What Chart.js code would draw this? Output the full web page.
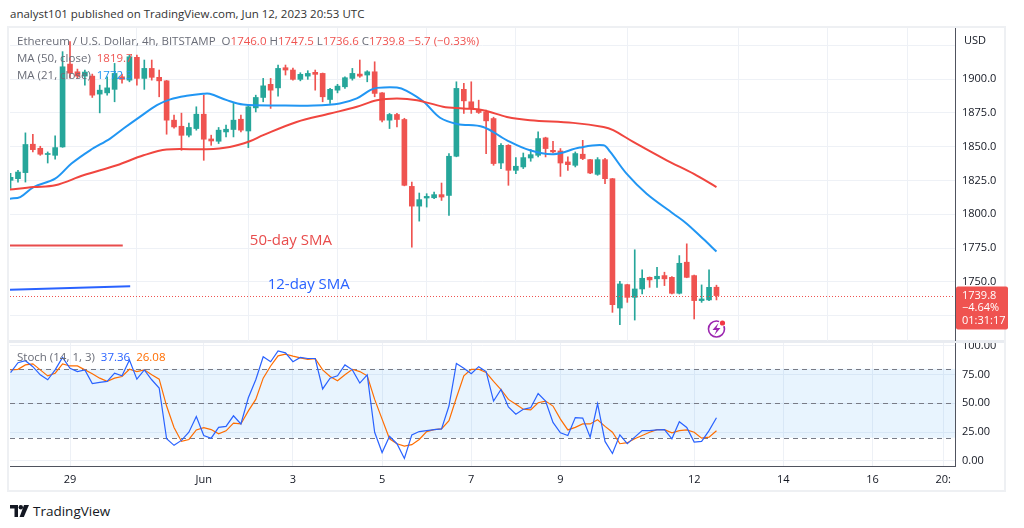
<!DOCTYPE html>
<html>
<head>
<meta charset="utf-8">
<script src="https://cdn.jsdelivr.net/npm/chart.js@4.4.0/dist/chart.umd.min.js"></script>
<style>
  html, body { margin: 0; padding: 0; background: #fff; width: 1024px; height: 528px; overflow: hidden; font-family: 'Open Sans', sans-serif; }
  #hdr { position: absolute; left: 10px; top: 6px; font-size: 11.5px; color: #333; white-space: nowrap; }
  #frame { position: absolute; left: 7px; top: 26px; width: 995px; height: 462px; border: 2px solid #eef0f3; }
  #sep { position: absolute; left: 9px; top: 340px; width: 995px; height: 3px; background: #e9ecf1; }
  #mainWrap { position: absolute; left: 10px; top: 28px; width: 1004px; height: 313px; }
  #stochWrap { position: absolute; left: 10px; top: 342px; width: 994px; height: 148px; }
  .legend { position: absolute; font-size: 11.5px; color: #6a6d78; white-space: nowrap; line-height: 14px; }
  .red { color: #ef5350; }
  .blue { color: #2196f3; }
  .kblue { color: #2962ff; }
  .orange { color: #ff6d00; }
  #usd { position: absolute; left: 964px; top: 32px; font-size: 11px; color: #131722; }
  #brand { position: absolute; left: 10px; top: 502px; font-size: 13.5px; color: #131722; display: flex; align-items: center; }
</style>
</head>
<body>
<div id="hdr">analyst101 published on TradingView.com, Jun 12, 2023 20:53 UTC</div>
<div id="frame"></div>
<div id="stochWrap"><canvas id="stochChart"></canvas></div>
<div id="sep"></div>
<div id="mainWrap"><canvas id="mainChart"></canvas></div>
<div id="usd">USD</div>

<div class="legend" style="left:17px; top:34px;">Ethereum / U.S. Dollar, 4h, BITSTAMP&nbsp; O<span class="red">1746.0</span> H<span class="red">1747.5</span> L<span class="red">1736.6</span> C<span class="red">1739.8</span> <span class="red">−5.7 (−0.33%)</span></div>
<div class="legend" style="left:17px; top:51px;">MA (50, close)&nbsp; <span class="red">1819.7</span></div>
<div class="legend" style="left:17px; top:68px;">MA (21, close)&nbsp; <span class="blue">1772.3</span></div>
<div class="legend" style="left:17px; top:350px;">Stoch (14, 1, 3)&nbsp; <span class="kblue">37.36</span>&nbsp; <span class="orange">26.08</span></div>

<div id="brand">
  <svg width="19" height="12" viewBox="0 0 19 12" style="margin-right:4px">
    <path d="M0 0h8v12H4.5V3.5H0z" fill="#131722"/>
    <circle cx="10.8" cy="2.2" r="2.2" fill="#131722"/>
    <path d="M14 0h5l-5.2 12H9.6z" fill="#131722"/>
  </svg>
  <span>TradingView</span>
</div>

<script>
// candle index 0 = May 29 00:00, one step = 4h
const START = -8;

const opens = [1825.1, 1826.3, 1830.8, 1851.8, 1848.8, 1844.2, 1843.6, 1849.8,
  1911.1, 1905.4, 1902.2, 1902.2, 1888.9, 1889.8, 1892.4, 1901.7, 1899.2, 1916.1,
  1900.5, 1907.9, 1901.3, 1898.7, 1869.6, 1865.1, 1858.5, 1863.4, 1874.0, 1855.7,
  1854.0, 1860.9, 1862.7, 1870.3, 1861.6, 1878.7, 1886.4, 1896.1, 1893.5, 1908.4,
  1906.7, 1899.8, 1902.2, 1905.0, 1904.2, 1884.9, 1891.8, 1894.3, 1900.5, 1903.7,
  1903.0, 1905.4, 1889.8, 1869.6, 1873.8, 1870.1, 1820.6, 1806.0, 1812.0, 1812.2,
  1814.5, 1813.9, 1842.9, 1892.4, 1883.2, 1877.0, 1875.7, 1870.8, 1837.9, 1851.0,
  1832.5, 1835.0, 1841.6, 1843.6, 1856.5, 1847.3, 1846.8, 1838.7, 1836.2, 1844.4,
  1840.4, 1829.5, 1840.4, 1826.3, 1730.6, 1747.9, 1738.5, 1744.7, 1753.3, 1752.2,
  1754.6, 1753.3, 1741.5, 1764.5, 1754.6, 1736.1, 1736.6, 1746.0];
const highs = [1830.3, 1832.5, 1860.2, 1859.2, 1850.3, 1846.1, 1858.0, 1920.3,
  1927.7, 1907.4, 1906.7, 1903.7, 1895.5, 1901.7, 1911.6, 1903.7, 1917.8, 1917.8,
  1914.1, 1914.1, 1906.7, 1899.0, 1873.3, 1874.8, 1867.4, 1879.5, 1888.1, 1858.5,
  1864.2, 1865.9, 1882.0, 1873.3, 1880.7, 1888.1, 1900.5, 1900.5, 1910.4, 1910.4,
  1908.2, 1904.7, 1906.2, 1906.7, 1904.5, 1893.1, 1896.1, 1901.7, 1907.9, 1914.1,
  1906.2, 1912.8, 1890.0, 1874.6, 1874.6, 1871.0, 1823.8, 1815.7, 1815.2, 1816.4,
  1823.1, 1844.9, 1898.0, 1896.8, 1898.0, 1884.4, 1877.0, 1871.8, 1852.3, 1851.5,
  1841.9, 1845.3, 1847.9, 1860.9, 1857.0, 1854.0, 1848.6, 1842.4, 1846.1, 1854.7,
  1840.7, 1841.9, 1841.4, 1826.5, 1750.4, 1748.2, 1773.7, 1758.8, 1753.6, 1760.8,
  1757.1, 1753.8, 1769.4, 1778.1, 1755.0, 1747.7, 1758.8, 1747.5];
const lows = [1819.1, 1823.8, 1823.8, 1846.1, 1843.6, 1837.9, 1840.7, 1849.5,
  1900.7, 1900.7, 1895.5, 1886.4, 1875.0, 1888.1, 1883.2, 1897.0, 1898.0, 1895.5,
  1892.4, 1899.2, 1886.9, 1859.2, 1863.6, 1847.3, 1857.2, 1862.2, 1839.9, 1851.0,
  1852.3, 1857.2, 1857.2, 1860.9, 1849.3, 1875.7, 1883.2, 1878.3, 1887.4, 1903.0,
  1899.2, 1898.7, 1899.8, 1891.8, 1883.2, 1882.0, 1889.8, 1893.1, 1899.2, 1901.3,
  1898.0, 1886.9, 1868.3, 1863.4, 1864.6, 1821.0, 1775.6, 1794.9, 1805.3, 1811.5,
  1810.2, 1799.1, 1842.5, 1874.6, 1874.6, 1874.6, 1844.9, 1836.2, 1833.8, 1821.4,
  1830.0, 1833.8, 1839.2, 1842.4, 1842.4, 1845.3, 1828.0, 1832.5, 1835.0, 1840.4,
  1830.0, 1828.8, 1822.6, 1727.4, 1718.3, 1734.8, 1721.7, 1741.0, 1745.9, 1745.9,
  1747.2, 1741.0, 1741.0, 1753.0, 1722.5, 1734.8, 1736.1, 1736.6];
const closes = [1827.3, 1831.2, 1851.6, 1847.8, 1844.4, 1844.8, 1849.3, 1909.1,
  1904.4, 1902.2, 1905.2, 1888.1, 1891.8, 1893.5, 1904.2, 1899.8, 1916.5, 1900.5,
  1907.9, 1901.3, 1898.7, 1869.6, 1864.6, 1858.4, 1864.2, 1874.0, 1855.5, 1854.2,
  1862.2, 1862.9, 1869.6, 1862.2, 1879.5, 1886.4, 1895.0, 1891.8, 1907.9, 1906.7,
  1899.8, 1903.5, 1904.2, 1903.5, 1886.9, 1892.4, 1894.8, 1901.0, 1904.2, 1902.2,
  1905.4, 1889.4, 1869.6, 1873.8, 1870.1, 1821.4, 1806.0, 1810.8, 1813.2, 1814.5,
  1812.7, 1842.9, 1893.1, 1883.9, 1878.3, 1875.3, 1869.1, 1837.5, 1851.0, 1832.5,
  1835.5, 1841.9, 1844.1, 1856.0, 1848.6, 1846.1, 1837.9, 1836.7, 1844.9, 1841.2,
  1830.5, 1840.4, 1826.3, 1733.1, 1748.4, 1738.5, 1744.7, 1752.6, 1751.4, 1754.1,
  1752.2, 1741.5, 1763.7, 1753.3, 1736.1, 1737.3, 1745.9, 1739.8];

// moving averages, read at points along the curves
const ma50X = [-8.1, -4.9, -2.0, 1.8, 6.3, 9.9, 13.0, 18.4, 21.5, 24.2, 26.0, 30.5, 35.0, 38.6, 41.3, 44.0, 46.7, 50.2, 52.9, 55.6, 58.8, 61.9, 67.7, 71.8, 73.1, 75.8, 80.3, 83.9, 87.0];
const ma50Y = [1818.2, 1820.1, 1821.4, 1828.8, 1836.2, 1843.6, 1847.9, 1848.1, 1849.8, 1854.0, 1858.5, 1868.3, 1874.5, 1879.5, 1884.4, 1885.7, 1884.4, 1879.6, 1878.3, 1877.0, 1872.0, 1869.6, 1867.6, 1864.6, 1862.2, 1853.5, 1839.9, 1830.0, 1820.1];
const ma21X = [-8.1, -6.7, -4.9, -2.0, 0.2, 2.7, 5.4, 7.2, 9.4, 11.7, 13.5, 15.7, 17.9, 18.8, 21.1, 23.3, 28.3, 32.8, 36.3, 38.6, 40.4, 41.3, 44.0, 45.3, 47.6, 49.8, 52.1, 55.6, 58.8, 61.9, 65.1, 68.6, 71.8, 72.7, 74.9, 77.6, 81.2, 83.0, 85.2, 87.0];
const ma21Y = [1811.5, 1812.7, 1820.1, 1826.3, 1837.5, 1847.3, 1856.0, 1863.4, 1872.0, 1880.7, 1885.0, 1887.6, 1889.1, 1889.1, 1884.4, 1881.2, 1880.5, 1880.5, 1882.0, 1885.7, 1891.8, 1893.5, 1893.8, 1891.3, 1883.2, 1871.4, 1866.8, 1864.6, 1854.7, 1847.3, 1844.4, 1849.3, 1851.0, 1846.1, 1830.0, 1815.2, 1800.4, 1793.0, 1781.8, 1772.4];

// hand-drawn marker segments on the chart
const sma50MarkX = [-8.1, 7.1];
const sma50MarkY = [1776.9, 1776.9];
const sma12MarkX = [-8.1, 8.1];
const sma12MarkY = [1744.2, 1746.7];

const stochK = [76.8, 85.3, 87.1, 81.9, 74.8, 70.5, 79.1, 89.9,
  80.5, 77.6, 79.1, 67.1, 68.2, 69.1, 76.2, 73.9, 87.7, 71.0, 79.1, 70.5, 63.3,
  19.1, 13.4, 17.7, 24.8, 38.5, 21.9, 19.6, 29.0, 29.9, 39.1, 32.0, 54.8, 70.5,
  90.5, 86.2, 95.6, 93.9, 86.2, 89.9, 89.0, 89.0, 62.5, 71.9, 73.9, 83.4, 79.1,
  67.6, 74.8, 24.8, 7.1, 21.3, 14.8, 2.0, 22.5, 25.4, 26.2, 27.1, 27.7, 47.6,
  84.7, 80.5, 75.7, 81.9, 77.6, 51.9, 62.0, 46.8, 40.5, 44.8, 46.2, 58.5, 51.9,
  33.3, 24.3, 21.9, 37.6, 37.1, 20.5, 49.6, 16.8, 6.3, 22.5, 14.8, 20.5, 26.2,
  26.2, 26.8, 27.1, 19.1, 33.9, 29.0, 16.2, 16.8, 26.2, 37.4];
const stochD = [79.1, 79.6, 83.4, 84.3, 79.1, 73.9, 76.2, 84.3,
  82.5, 82.5, 79.1, 75.7, 71.9, 69.1, 71.9, 73.3, 79.6, 77.6, 79.1, 74.8, 71.0,
  47.6, 29.0, 16.8, 18.5, 26.8, 28.8, 27.1, 23.4, 26.0, 32.8, 32.0, 43.4, 53.4,
  71.9, 82.5, 91.3, 92.8, 91.1, 89.6, 88.2, 88.8, 79.1, 73.4, 69.7, 74.8, 79.6,
  77.6, 73.9, 53.4, 36.2, 19.1, 14.8, 12.8, 14.0, 18.5, 25.4, 27.1, 27.7, 34.8,
  54.8, 73.9, 79.6, 79.6, 76.8, 69.1, 62.0, 53.4, 49.1, 44.8, 44.3, 50.5, 51.9,
  47.6, 36.2, 26.8, 29.0, 32.0, 32.0, 35.6, 29.9, 24.8, 14.8, 15.7, 19.1, 21.9,
  24.8, 27.1, 27.1, 24.3, 26.2, 26.8, 24.8, 19.6, 20.5, 26.1];

const dayTicks = [0, 18, 30, 42, 54, 66, 84, 96, 108, 117.5];
const dayLabels = ['29', 'Jun', '3', '5', '7', '9', '12', '14', '16', '20:'];
const priceTicks = [1725, 1750, 1775, 1800, 1825, 1850, 1875, 1900, 1925];
const priceLabelled = [1750, 1775, 1800, 1825, 1850, 1875, 1900];
const stochTicks = [0, 25, 50, 75, 100];
const stochLevels = [80, 50, 20];

const X_MIN = -8.075, X_MAX = 119.1;
const UP = '#26a69a', DOWN = '#ef5350';
const GRID = '#eef1f6';
const AXIS_LINE = '#50535e';
const TEXT = '#131722';

const candleX = opens.map((_, k) => START + k);
const candleColors = opens.map((o, k) => closes[k] >= o ? UP : DOWN);
const lastClose = closes[closes.length - 1];
const lastX = candleX[candleX.length - 1];

const zip = (xs, ys) => xs.map((x, k) => ({ x: x, y: ys[k] }));

function rightAxis(width) {
    return (scale) => {
        scale.width = width;
        scale.paddingTop = 0;
        scale.paddingBottom = 0;
    };
}

const overlayPlugin = {
    id: 'overlay',
    afterDatasetsDraw(chart) {
        const { ctx, chartArea, scales } = chart;
        const y = scales.y.getPixelForValue(lastClose);

        // dotted last price line
        ctx.save();
        ctx.strokeStyle = DOWN;
        ctx.lineWidth = 1;
        ctx.setLineDash([1, 2]);
        ctx.beginPath();
        ctx.moveTo(chartArea.left, Math.round(y) + 0.5);
        ctx.lineTo(chartArea.right, Math.round(y) + 0.5);
        ctx.stroke();
        ctx.restore();

        // text notes
        ctx.save();
        ctx.font = '15px "Open Sans", sans-serif';
        ctx.textBaseline = 'middle';
        ctx.fillStyle = '#e84c4c';
        ctx.fillText('50-day SMA', scales.x.getPixelForValue(24.2), scales.y.getPixelForValue(1780.6));
        ctx.fillStyle = '#2962ff';
        ctx.fillText('12-day SMA', scales.x.getPixelForValue(26.6), scales.y.getPixelForValue(1747.9));
        ctx.restore();

        // replay/lightning badge
        const cx = scales.x.getPixelForValue(lastX), cy = chartArea.bottom - 12;
        ctx.save();
        ctx.strokeStyle = '#9c27b0';
        ctx.lineWidth = 1.6;
        ctx.beginPath();
        ctx.arc(cx, cy, 8, 0, Math.PI * 2);
        ctx.stroke();
        ctx.fillStyle = '#9c27b0';
        ctx.beginPath();
        ctx.moveTo(cx + 2, cy - 6);
        ctx.lineTo(cx - 4, cy + 1);
        ctx.lineTo(cx, cy + 1);
        ctx.lineTo(cx - 2, cy + 6);
        ctx.lineTo(cx + 4, cy - 1);
        ctx.lineTo(cx, cy - 1);
        ctx.closePath();
        ctx.fill();
        ctx.fillStyle = '#fff';
        ctx.beginPath();
        ctx.arc(cx + 6, cy - 6, 3.6, 0, Math.PI * 2);
        ctx.fill();
        ctx.fillStyle = '#f23645';
        ctx.beginPath();
        ctx.arc(cx + 6, cy - 6, 2.6, 0, Math.PI * 2);
        ctx.fill();
        ctx.restore();
    },
    afterDraw(chart) {
        const { ctx, chartArea, scales } = chart;
        const y = scales.y.getPixelForValue(lastClose);
        const left = chartArea.right + 1;
        ctx.save();
        ctx.fillStyle = DOWN;
        ctx.beginPath();
        ctx.roundRect(left, y - 9, 52, 43, 2);
        ctx.fill();
        ctx.fillStyle = '#fff';
        ctx.font = '11px "Open Sans", sans-serif';
        ctx.textBaseline = 'middle';
        ctx.fillText('1739.8', left + 6, y);
        ctx.fillText('−4.64%', left + 6, y + 12.5);
        ctx.fillText('01:31:17', left + 6, y + 25);
        ctx.restore();
    }
};

new Chart(document.getElementById('mainChart'), {
    type: 'bar',
    data: {
        datasets: [
            {
                type: 'line', label: 'MA 50', data: zip(ma50X, ma50Y), order: 0,
                borderColor: '#f0463f', borderWidth: 2, pointRadius: 0, tension: 0.35
            },
            {
                type: 'line', label: 'MA 21', data: zip(ma21X, ma21Y), order: 0,
                borderColor: '#2196f3', borderWidth: 2, pointRadius: 0, tension: 0.35
            },
            {
                type: 'line', label: '50 mark', data: zip(sma50MarkX, sma50MarkY), order: 0,
                borderColor: '#e84c4c', borderWidth: 2, pointRadius: 0
            },
            {
                type: 'line', label: '12 mark', data: zip(sma12MarkX, sma12MarkY), order: 0,
                borderColor: '#2962ff', borderWidth: 2, pointRadius: 0
            },
            {
                label: 'wicks', order: 2, grouped: false,
                data: candleX.map((x, k) => ({ x: x, y: [lows[k], highs[k]] })),
                backgroundColor: candleColors, barThickness: 1
            },
            {
                label: 'bodies', order: 1, grouped: false, minBarLength: 1,
                data: candleX.map((x, k) => ({ x: x, y: [opens[k], closes[k]] })),
                backgroundColor: candleColors, barThickness: 5
            }
        ]
    },
    options: {
        responsive: true,
        maintainAspectRatio: false,
        animation: false,
        layout: { padding: 0 },
        plugins: { legend: { display: false }, tooltip: { enabled: false } },
        scales: {
            x: {
                type: 'linear', min: X_MIN, max: X_MAX, offset: false,
                afterBuildTicks: (s) => { s.ticks = dayTicks.map(v => ({ value: v })); },
                afterFit: (s) => { s.height = 0; s.paddingLeft = 0; s.paddingRight = 0; },
                ticks: { display: false },
                grid: { color: GRID, drawTicks: false },
                border: { display: false }
            },
            y: {
                position: 'right', min: 1706.2, max: 1937.8,
                afterBuildTicks: (s) => { s.ticks = priceTicks.map(v => ({ value: v })); },
                afterFit: rightAxis(59),
                ticks: {
                    padding: 7, color: TEXT, font: { family: 'Open Sans', size: 11 },
                    callback: (v) => priceLabelled.includes(v) ? v.toFixed(1) : ''
                },
                grid: { color: GRID, drawTicks: false },
                border: { display: true, color: AXIS_LINE, width: 1 }
            }
        }
    },
    plugins: [overlayPlugin]
});

const bandPlugin = {
    id: 'band',
    beforeDatasetsDraw(chart) {
        const { ctx, chartArea, scales } = chart;
        const top = scales.y.getPixelForValue(80), bottom = scales.y.getPixelForValue(20);
        ctx.save();
        ctx.fillStyle = 'rgba(33, 150, 243, 0.1)';
        ctx.fillRect(chartArea.left, top, chartArea.right - chartArea.left, bottom - top);
        ctx.strokeStyle = '#787b86';
        ctx.lineWidth = 1;
        ctx.setLineDash([5, 4]);
        stochLevels.forEach(level => {
            const y = Math.round(scales.y.getPixelForValue(level)) + 0.5;
            ctx.beginPath();
            ctx.moveTo(chartArea.left, y);
            ctx.lineTo(chartArea.right, y);
            ctx.stroke();
        });
        ctx.restore();
    }
};

new Chart(document.getElementById('stochChart'), {
    type: 'line',
    data: {
        datasets: [
            {
                label: '%K', data: zip(candleX, stochK),
                borderColor: '#2962ff', borderWidth: 1.2, pointRadius: 0, tension: 0
            },
            {
                label: '%D', data: zip(candleX, stochD),
                borderColor: '#ff6d00', borderWidth: 1.2, pointRadius: 0, tension: 0
            }
        ]
    },
    options: {
        responsive: true,
        maintainAspectRatio: false,
        animation: false,
        layout: { padding: { top: 1 } },
        plugins: { legend: { display: false }, tooltip: { enabled: false } },
        scales: {
            x: {
                type: 'linear', min: X_MIN, max: X_MAX,
                afterBuildTicks: (s) => { s.ticks = dayTicks.map(v => ({ value: v })); },
                afterFit: (s) => { s.height = 24; s.paddingLeft = 0; s.paddingRight = 0; },
                ticks: {
                    padding: 7, color: TEXT, font: { family: 'Open Sans', size: 11 }, maxRotation: 0,
                    autoSkip: false,
                    callback: (v, idx) => dayLabels[idx]
                },
                grid: { color: GRID, drawTicks: false },
                border: { display: true, color: AXIS_LINE, width: 1 }
            },
            y: {
                position: 'right', min: -4.6, max: 102.5,
                afterBuildTicks: (s) => { s.ticks = stochTicks.map(v => ({ value: v })); },
                afterFit: rightAxis(49),
                ticks: {
                    padding: 7, color: TEXT, font: { family: 'Open Sans', size: 11 },
                    callback: (v) => v.toFixed(2)
                },
                grid: { color: GRID, drawTicks: false },
                border: { display: true, color: AXIS_LINE, width: 1 }
            }
        }
    },
    plugins: [bandPlugin]
});
</script>
</body>
</html>
